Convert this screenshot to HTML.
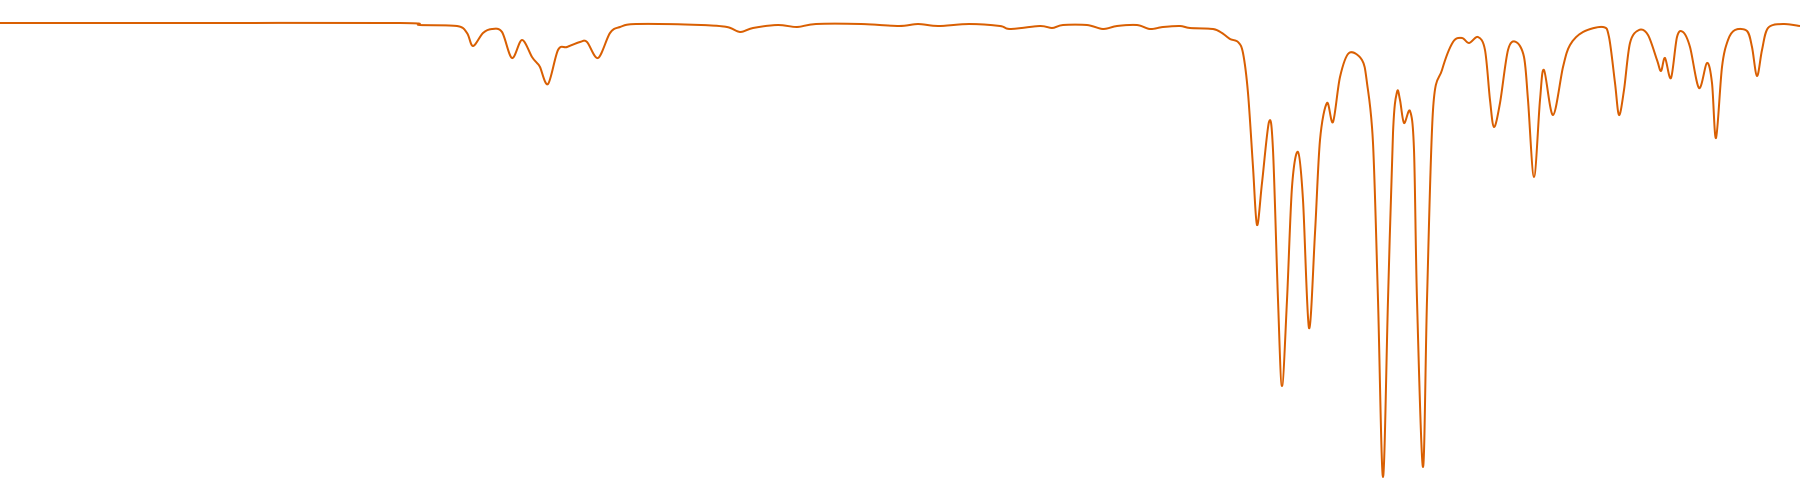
<!DOCTYPE html>
<html><head><meta charset="utf-8"><style>html,body{margin:0;padding:0;background:#fff;}svg{display:block;}</style></head>
<body>
<svg id="chart" width="1800" height="500" viewBox="0 0 1800 500"></svg>
<script>
const wavePos = [0,200,400,420,457,467,473,483,492,502,512,522,532,537,540,548,558,567,580,587,598,610,620,637,701,727,740,753,778,797,816,861,899,918,938,969,1000,1010,1040,1052,1063,1087,1103,1117,1137,1150,1163,1180,1190,1213,1222,1230,1238,1243,1248,1253,1257,1262,1269,1273,1278,1282,1287,1292,1298,1303,1309,1315,1320,1327,1333,1340,1349,1362,1367,1373,1378,1383,1388,1393,1397,1400,1404,1410,1414,1417,1423,1427,1433,1442,1453,1462,1469,1478,1485,1490,1494,1500,1508,1516,1524,1528,1534,1540,1544,1553,1563,1570,1583,1603,1609,1615,1619,1624,1630,1639,1648,1657,1661,1665,1671,1677,1683,1690,1699,1707,1712,1716,1722,1728,1735,1747,1752,1757,1762,1768,1783,1800];
const transmittance = [99.4,99.4,99.4,99,98.8,97.4,94.8,97.4,98.2,97.6,92.4,96,92.6,91.4,90.6,87.2,94,94.6,95.6,95.6,92.4,97.4,98.6,99.2,99,98.6,97.6,98.4,99,98.6,99.2,99.2,98.8,99.2,98.8,99.2,98.8,98.2,98.8,98.4,99,99,98.2,98.8,99,98.2,98.6,98.8,98.4,98.2,97.4,96.2,95.6,93.4,85.4,70.6,59,67.4,79.6,74,44,26.8,44,66.6,73.6,64,38.4,57.4,76,83.4,79.6,88.6,93.4,92,87.4,75.4,44,8.6,44,77.4,85.6,84,79.4,81.8,74,44,10.6,44,82,90,95.6,96.4,95.4,96.6,94,84,78.6,83.4,94,95.6,92.6,84,68.6,84,90,81,90.6,95,97.6,98.6,96.6,87.4,81,86,95.4,98,97,92,89.8,92.4,88.4,96.6,97.6,94.6,86.4,91.4,87.4,76.4,90.6,96,98,97.8,94.6,88.8,94,98.4,99.2,98.8];
const xDomain = [0, 1800];
const yDomain = [0, 100];
const xScale = v => (v - xDomain[0]) / (xDomain[1] - xDomain[0]) * 1800;
const yScale = v => 20 + (yDomain[1] - v) * 5;

const pts = wavePos.map((w, i) => [xScale(w), yScale(transmittance[i])]);
let d = 'M' + pts[0][0] + ',' + pts[0][1];
for (let i = 0; i < pts.length - 1; i++) {
  const p0 = pts[Math.max(0, i - 1)], p1 = pts[i], p2 = pts[i + 1], p3 = pts[Math.min(pts.length - 1, i + 2)];
  const t = 0.16;
  const c1x = p1[0] + (p2[0] - p0[0]) * t, c1y = p1[1] + (p2[1] - p0[1]) * t;
  const c2x = p2[0] - (p3[0] - p1[0]) * t, c2y = p2[1] - (p3[1] - p1[1]) * t;
  d += ' C' + c1x.toFixed(2) + ',' + c1y.toFixed(2) + ' ' + c2x.toFixed(2) + ',' + c2y.toFixed(2) + ' ' + p2[0].toFixed(2) + ',' + p2[1].toFixed(2);
}
const svg = document.getElementById('chart');
const path = document.createElementNS('http://www.w3.org/2000/svg', 'path');
path.setAttribute('d', d);
path.setAttribute('fill', 'none');
path.setAttribute('stroke', '#d95f02');
path.setAttribute('stroke-width', '2');
path.setAttribute('stroke-linejoin', 'round');


svg.appendChild(path);
</script>
</body></html>
